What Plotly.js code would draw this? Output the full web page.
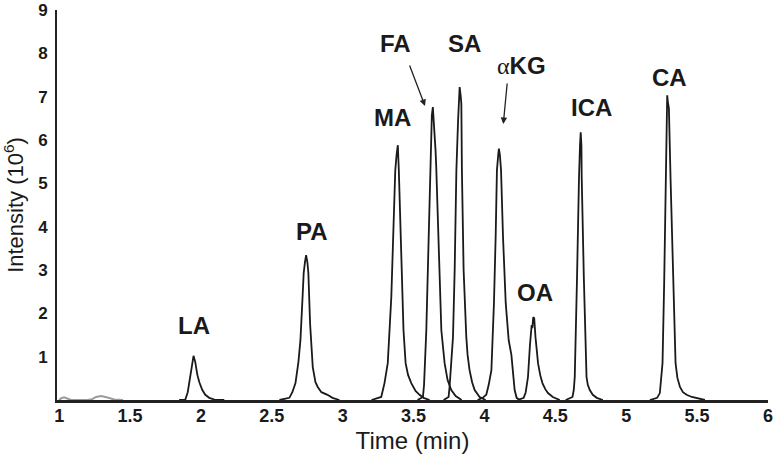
<!DOCTYPE html>
<html>
<head>
<meta charset="utf-8">
<script src="https://cdn.plot.ly/plotly-3.0.1.min.js"></script>
<style>html,body{margin:0;padding:0;background:#fff;}#chart{width:774px;height:461px;}</style>
</head>
<body>
<div id="chart"></div>
<script>
// ---- data ----
const xTickVals = [1, 1.5, 2, 2.5, 3, 3.5, 4, 4.5, 5, 5.5, 6];
const xTickText = ["1", "1.5", "2", "2.5", "3", "3.5", "4", "4.5", "5", "5.5", "6"];
const yTickVals = [1, 2, 3, 4, 5, 6, 7, 8, 9];

const noiseTime = [1.0, 1.015, 1.035, 1.06, 1.085, 1.2, 1.233, 1.26, 1.297, 1.34, 1.388, 1.45];
const noiseIntensity = [0, 0.04, 0.06, 0.03, 0, 0, 0.02, 0.07, 0.09, 0.06, 0.01, 0];

const laTime = [1.847, 1.890, 1.907, 1.922, 1.936, 1.948, 1.960, 1.975, 1.989, 2.010, 2.031, 2.059, 2.095, 2.165];
const laIntensity = [0, 0.01, 0.18, 0.46, 0.81, 1.02, 0.88, 0.58, 0.41, 0.23, 0.12, 0.05, 0.01, 0];

const paTime = [2.554, 2.624, 2.645, 2.667, 2.688, 2.702, 2.716, 2.725, 2.734, 2.742, 2.751, 2.758, 2.770, 2.780, 2.789, 2.808, 2.824, 2.850, 2.893, 2.928, 2.977];
const paIntensity = [0, 0.05, 0.18, 0.39, 0.88, 1.38, 2.30, 2.93, 3.18, 3.34, 3.18, 2.93, 1.77, 1.15, 0.76, 0.41, 0.30, 0.18, 0.12, 0.05, 0];

const maTime = [3.203, 3.272, 3.295, 3.318, 3.343, 3.359, 3.371, 3.380, 3.389, 3.396, 3.413, 3.429, 3.444, 3.461, 3.484, 3.514, 3.542, 3.571, 3.613];
const maIntensity = [0, 0.07, 0.39, 0.85, 2.37, 3.92, 5.30, 5.65, 5.88, 5.30, 3.16, 1.61, 0.85, 0.58, 0.39, 0.21, 0.12, 0.05, 0];

const faTime = [3.528, 3.566, 3.574, 3.590, 3.608, 3.620, 3.629, 3.636, 3.643, 3.648, 3.655, 3.660, 3.679, 3.696, 3.719, 3.740, 3.766, 3.797, 3.839];
const faIntensity = [0, 0.07, 0.35, 1.61, 3.92, 5.83, 6.57, 6.76, 6.45, 6.22, 5.76, 5.37, 3.16, 1.61, 0.85, 0.46, 0.23, 0.09, 0];

const saTime = [3.712, 3.747, 3.754, 3.778, 3.790, 3.802, 3.814, 3.825, 3.832, 3.837, 3.841, 3.853, 3.872, 3.881, 3.895, 3.913, 3.931, 3.966, 4.008];
const saIntensity = [0, 0.07, 0.30, 1.45, 3.00, 5.30, 6.45, 7.22, 7.03, 6.84, 5.30, 3.00, 1.45, 1.04, 0.69, 0.41, 0.23, 0.07, 0];

const akgTime = [3.952, 3.987, 4.013, 4.030, 4.049, 4.067, 4.079, 4.088, 4.097, 4.102, 4.109, 4.117, 4.131, 4.136, 4.150, 4.171, 4.190, 4.203, 4.213, 4.227, 4.249];
const akgIntensity = [0, 0.05, 0.12, 0.35, 0.69, 2.24, 3.76, 5.30, 5.65, 5.80, 5.65, 5.30, 3.76, 3.23, 2.24, 1.38, 1.04, 0.58, 0.23, 0.05, 0];

const oaTime = [4.234, 4.277, 4.291, 4.307, 4.321, 4.328, 4.333, 4.338, 4.344, 4.351, 4.360, 4.378, 4.393, 4.409, 4.429, 4.448, 4.482, 4.531];
const oaIntensity = [0, 0.05, 0.18, 0.53, 1.27, 1.68, 1.73, 1.66, 1.91, 1.89, 1.45, 0.85, 0.58, 0.39, 0.25, 0.16, 0.07, 0];

const icaTime = [4.573, 4.621, 4.630, 4.637, 4.653, 4.663, 4.667, 4.674, 4.679, 4.684, 4.686, 4.701, 4.720, 4.729, 4.743, 4.764, 4.792, 4.835];
const icaIntensity = [0, 0.07, 0.23, 0.53, 2.83, 5.00, 5.14, 5.88, 6.18, 5.88, 5.14, 2.83, 0.53, 0.35, 0.23, 0.12, 0.05, 0];

const caTime = [5.167, 5.218, 5.237, 5.256, 5.268, 5.280, 5.285, 5.289, 5.294, 5.301, 5.313, 5.320, 5.331, 5.348, 5.361, 5.379, 5.400, 5.426, 5.463, 5.506, 5.555];
const caIntensity = [0, 0.05, 0.16, 0.85, 2.76, 5.07, 6.45, 7.03, 6.87, 6.73, 5.07, 4.31, 2.76, 0.85, 0.51, 0.30, 0.18, 0.12, 0.07, 0.03, 0];

const peakNames = ["LA", "PA", "MA", "FA", "SA", "αKG", "OA", "ICA", "CA"];
const peakTimes = [laTime, paTime, maTime, faTime, saTime, akgTime, oaTime, icaTime, caTime];
const peakIntensities = [laIntensity, paIntensity, maIntensity, faIntensity, saIntensity, akgIntensity, oaIntensity, icaIntensity, caIntensity];

// ---- traces ----
const traces = [{
  type: "scatter", mode: "lines", name: "noise",
  x: noiseTime, y: noiseIntensity,
  line: {color: "#9a9a9a", width: 2},
  showlegend: false, hoverinfo: "skip"
}];
peakNames.forEach((n, i) => {
  traces.push({
    type: "scatter", mode: "lines", name: n,
    x: peakTimes[i], y: peakIntensities[i],
    line: {color: "#1a1a1a", width: 1.8},
    showlegend: false
  });
});

const labelFont = {family: "Liberation Sans, Arial, sans-serif", size: 24, color: "#1a1a1a", weight: "bold"};
function label(text, x, y) {
  return {text: text, x: x, y: y, xref: "x", yref: "y", showarrow: false,
          xanchor: "center", yanchor: "middle", font: labelFont};
}
function arrow(x, y, ax, ay) {
  return {text: "", x: x, y: y, xref: "x", yref: "y", showarrow: true,
          ax: ax, ay: ay, arrowhead: 2, arrowsize: 1, arrowwidth: 1.3, arrowcolor: "#222"};
}

const layout = {
  width: 774, height: 461,
  margin: {l: 57, r: 6, t: 10, b: 61},
  paper_bgcolor: "#ffffff", plot_bgcolor: "#ffffff",
  font: {family: "Liberation Sans, Arial, sans-serif", color: "#1a1a1a"},
  showlegend: false,
  xaxis: {
    range: [0.985, 6], tickvals: xTickVals, ticktext: xTickText,
    showgrid: false, zeroline: false, showline: true, linewidth: 3, linecolor: "#222",
    ticks: "", automargin: false, ticklabelstandoff: -3,
    tickfont: {size: 18, weight: "bold", color: "#1a1a1a"},
    title: {text: "Time (min)", font: {size: 24, color: "#1a1a1a"}, standoff: 8}
  },
  yaxis: {
    range: [0, 9], tickvals: yTickVals,
    showgrid: false, zeroline: false, showline: true, linewidth: 2, linecolor: "#222",
    ticks: "", automargin: false, ticklabelstandoff: 4,
    tickfont: {size: 17, weight: "bold", color: "#1a1a1a"},
    title: {text: "Intensity (10<sup>6</sup>)", font: {size: 22, color: "#1a1a1a"}, standoff: 9}
  },
  annotations: [
    label("LA", 1.948, 1.73),
    label("PA", 2.784, 3.88),
    label("MA", 3.348, 6.51),
    label("FA", 3.376, 8.22),
    label("SA", 3.856, 8.22),
    label("<span style='font-family:Liberation Serif;font-weight:normal'>α</span>KG", 4.259, 7.73),
    label("OA", 4.357, 2.47),
    label("ICA", 4.752, 6.74),
    label("CA", 5.302, 7.45),
    arrow(3.581, 6.785, -16, -42),
    arrow(4.133, 6.37, 4, -42)
  ]
};

Plotly.newPlot("chart", traces, layout, {displayModeBar: false, staticPlot: true});
</script>
</body>
</html>
